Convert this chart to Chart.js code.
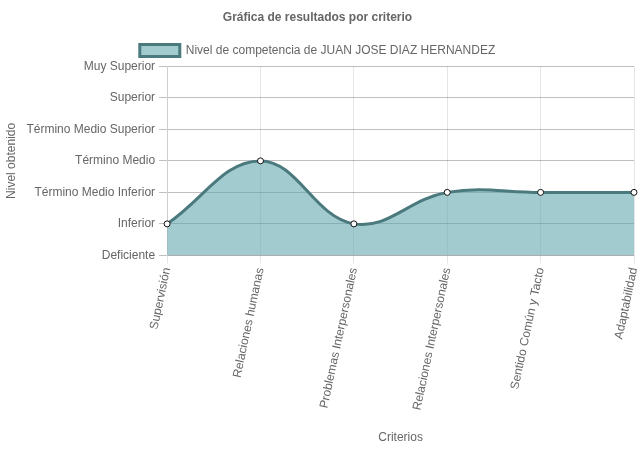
<!DOCTYPE html>
<html>
<head>
<meta charset="utf-8">
<script src="https://cdn.jsdelivr.net/npm/chart.js@4/dist/chart.umd.min.js"></script>
<style>
    html, body { margin: 0; padding: 0; background: #fff; }
    #wrap { width: 639px; height: 449px; }
</style>
</head>
<body>
<div id="wrap"><canvas id="resultados"></canvas></div>
<script>
let criterios = ["Supervisión", "Relaciones humanas", "Problemas Interpersonales", "Relaciones Interpersonales", "Sentido Común y Tacto", "Adaptabilidad"];
let niveles = ["Deficiente", "Inferior", "Término Medio Inferior", "Término Medio", "Término Medio Superior", "Superior", "Muy Superior"];
let valores = [1, 3, 1, 2, 2, 2];

Chart.defaults.font.family = "'Liberation Sans', Arial, sans-serif";
Chart.defaults.font.size = 12;
Chart.defaults.color = "#666";

new Chart(document.getElementById("resultados"), {
    type: "line",
    data: {
        labels: criterios,
        datasets: [
            {
                label: "Nivel de competencia de JUAN JOSE DIAZ HERNANDEZ",
                data: valores,
                fill: true,
                tension: 0.4,
                borderWidth: 3,
                borderColor: "#4b7a7e",
                backgroundColor: "rgba(95, 165, 172, 0.58)",
                pointRadius: 3,
                pointBorderWidth: 1,
                pointBackgroundColor: "#fff",
                pointBorderColor: "#111"
            }
        ]
    },
    options: {
        responsive: true,
        maintainAspectRatio: false,
        animation: false,
        layout: { padding: { right: 4 } },
        scales: {
            x: {
                grid: { color: "rgba(0,0,0,0.1)" },
                ticks: { maxRotation: 78, minRotation: 78 },
                title: { display: true, text: "Criterios" },
                afterFit: (scale) => {
                    scale.paddingRight = 0;
                    scale.height += 12;
                }
            },
            y: {
                min: 0,
                max: 6,
                grid: { color: "rgba(0,0,0,0.25)" },
                ticks: {
                    stepSize: 1,
                    padding: 4,
                    callback: (v) => niveles[v]
                },
                title: { display: true, text: "Nivel obtenido" }
            }
        },
        plugins: {
            title: {
                display: true,
                text: "Gráfica de resultados por criterio"
            },
            legend: {
                labels: { boxWidth: 40 }
            }
        }
    }
});
</script>
</body>
</html>
